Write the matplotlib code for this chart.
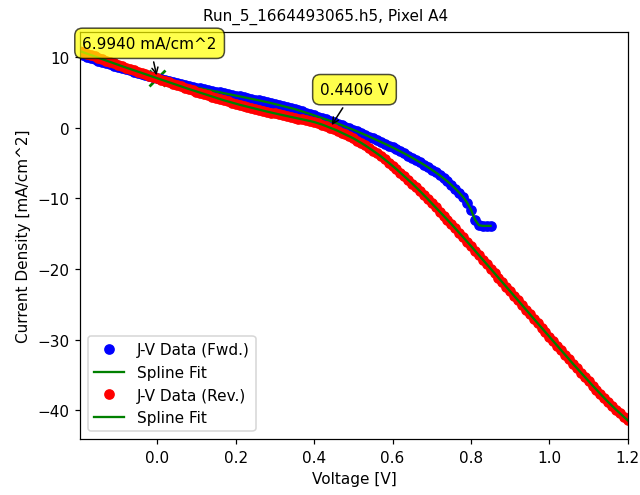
import numpy as np
import matplotlib
matplotlib.use("Agg")
import matplotlib.pyplot as plt

# data
titulo = "Run_5_1664493065.h5, Pixel A4"
jsc = 6.9940
voc = 0.4406

v_fwd = np.round(np.arange(-0.20, 0.851, 0.01), 2)
j_fwd = [10.45, 10.26, 10.07, 9.88, 9.69, 9.50, 9.32, 9.14, 8.96, 8.78,
         8.60, 8.43, 8.27, 8.11, 7.94, 7.78, 7.62, 7.46, 7.31, 7.15,
         7.00, 6.86, 6.72, 6.58, 6.44, 6.30, 6.17, 6.05, 5.92, 5.80,
         5.68, 5.57, 5.46, 5.34, 5.23, 5.12, 5.01, 4.89, 4.78, 4.66,
         4.55, 4.44, 4.32, 4.21, 4.09, 3.98, 3.86, 3.74, 3.62, 3.49,
         3.35, 3.21, 3.07, 2.93, 2.79, 2.65, 2.48, 2.30, 2.12, 1.94,
         1.75, 1.56, 1.37, 1.18, 0.99, 0.80, 0.59, 0.37, 0.15, -0.07,
         -0.30, -0.53, -0.77, -1.01, -1.25, -1.50, -1.75, -2.01, -2.27, -2.53,
         -2.80, -3.08, -3.36, -3.65, -3.95, -4.25, -4.57, -4.90, -5.24, -5.59,
         -5.95, -6.33, -6.73, -7.15, -7.60, -8.10, -8.63, -9.20, -9.80, -10.60,
         -11.60, -13.00, -13.80, -13.90, -13.90, -13.90]

v_rev = np.round(np.arange(-0.20, 1.201, 0.01), 2)
j_rev = [10.90, 10.70, 10.50, 10.30, 10.10, 9.90, 9.70, 9.50, 9.30, 9.10,
         8.90, 8.71, 8.52, 8.33, 8.14, 7.95, 7.76, 7.57, 7.38, 7.19,
         6.99, 6.80, 6.61, 6.42, 6.23, 6.05, 5.86, 5.68, 5.49, 5.31,
         5.12, 4.94, 4.76, 4.58, 4.40, 4.22, 4.05, 3.88, 3.72, 3.56,
         3.40, 3.25, 3.11, 2.96, 2.82, 2.68, 2.55, 2.42, 2.28, 2.15,
         2.02, 1.90, 1.78, 1.66, 1.54, 1.42, 1.30, 1.18, 1.06, 0.94,
         0.80, 0.63, 0.45, 0.24, 0.01, -0.20, -0.44, -0.70, -0.96, -1.23,
         -1.50, -1.82, -2.15, -2.50, -2.87, -3.25, -3.64, -4.04, -4.48, -4.94,
         -5.40, -5.88, -6.37, -6.88, -7.38, -7.90, -8.44, -8.99, -9.55, -10.12,
         -10.70, -11.28, -11.87, -12.46, -13.05, -13.65, -14.26, -14.88, -15.50, -16.12,
         -16.75, -17.39, -18.03, -18.67, -19.31, -19.95, -20.59, -21.23, -21.87, -22.51,
         -23.15, -23.80, -24.45, -25.10, -25.75, -26.40, -27.04, -27.68, -28.32, -28.96,
         -29.60, -30.24, -30.88, -31.52, -32.16, -32.80, -33.42, -34.04, -34.66, -35.28,
         -35.90, -36.50, -37.10, -37.69, -38.27, -38.85, -39.40, -39.93, -40.45, -40.95,
         -41.45]

dpi = 110
fig, ax = plt.subplots(figsize=(640 / dpi, 496 / dpi), dpi=dpi)
fig.subplots_adjust(left=0.125, right=0.981, top=0.933, bottom=0.113)

# marcador do Jsc
ax.plot(0, jsc, 'gx', markersize=10, markeredgewidth=1.8)

ax.plot(v_fwd, j_fwd, 'bo', label='J-V Data (Fwd.)')
ax.plot(v_fwd, j_fwd, 'g-', label='Spline Fit')
ax.plot(v_rev, j_rev, 'ro', label='J-V Data (Rev.)')
ax.plot(v_rev, j_rev, 'g-', label='Spline Fit')

caixa = dict(boxstyle='round,pad=0.5', fc='yellow', alpha=0.7)
seta = dict(arrowstyle='->', connectionstyle='arc3,rad=0')
ax.annotate("%.4f mA/cm^2" % jsc, xy=(0, jsc), xytext=(-5, 18),
            textcoords='offset points', ha='center', va='bottom',
            bbox=caixa, arrowprops=seta)
ax.annotate("%.4f V" % voc, xy=(voc, 0), xytext=(16, 20),
            textcoords='offset points', ha='center', va='bottom',
            bbox=caixa, arrowprops=seta)

ax.set_xlim(-0.197, 1.2)
fig.suptitle(titulo, fontsize=10, x=0.508, y=0.982, va='top')
ax.set_xlabel("Voltage [V]")
ax.set_ylabel("Current Density [mA/cm^2]")
ax.legend(loc='lower left')
fig.savefig("out.png", dpi=dpi)
